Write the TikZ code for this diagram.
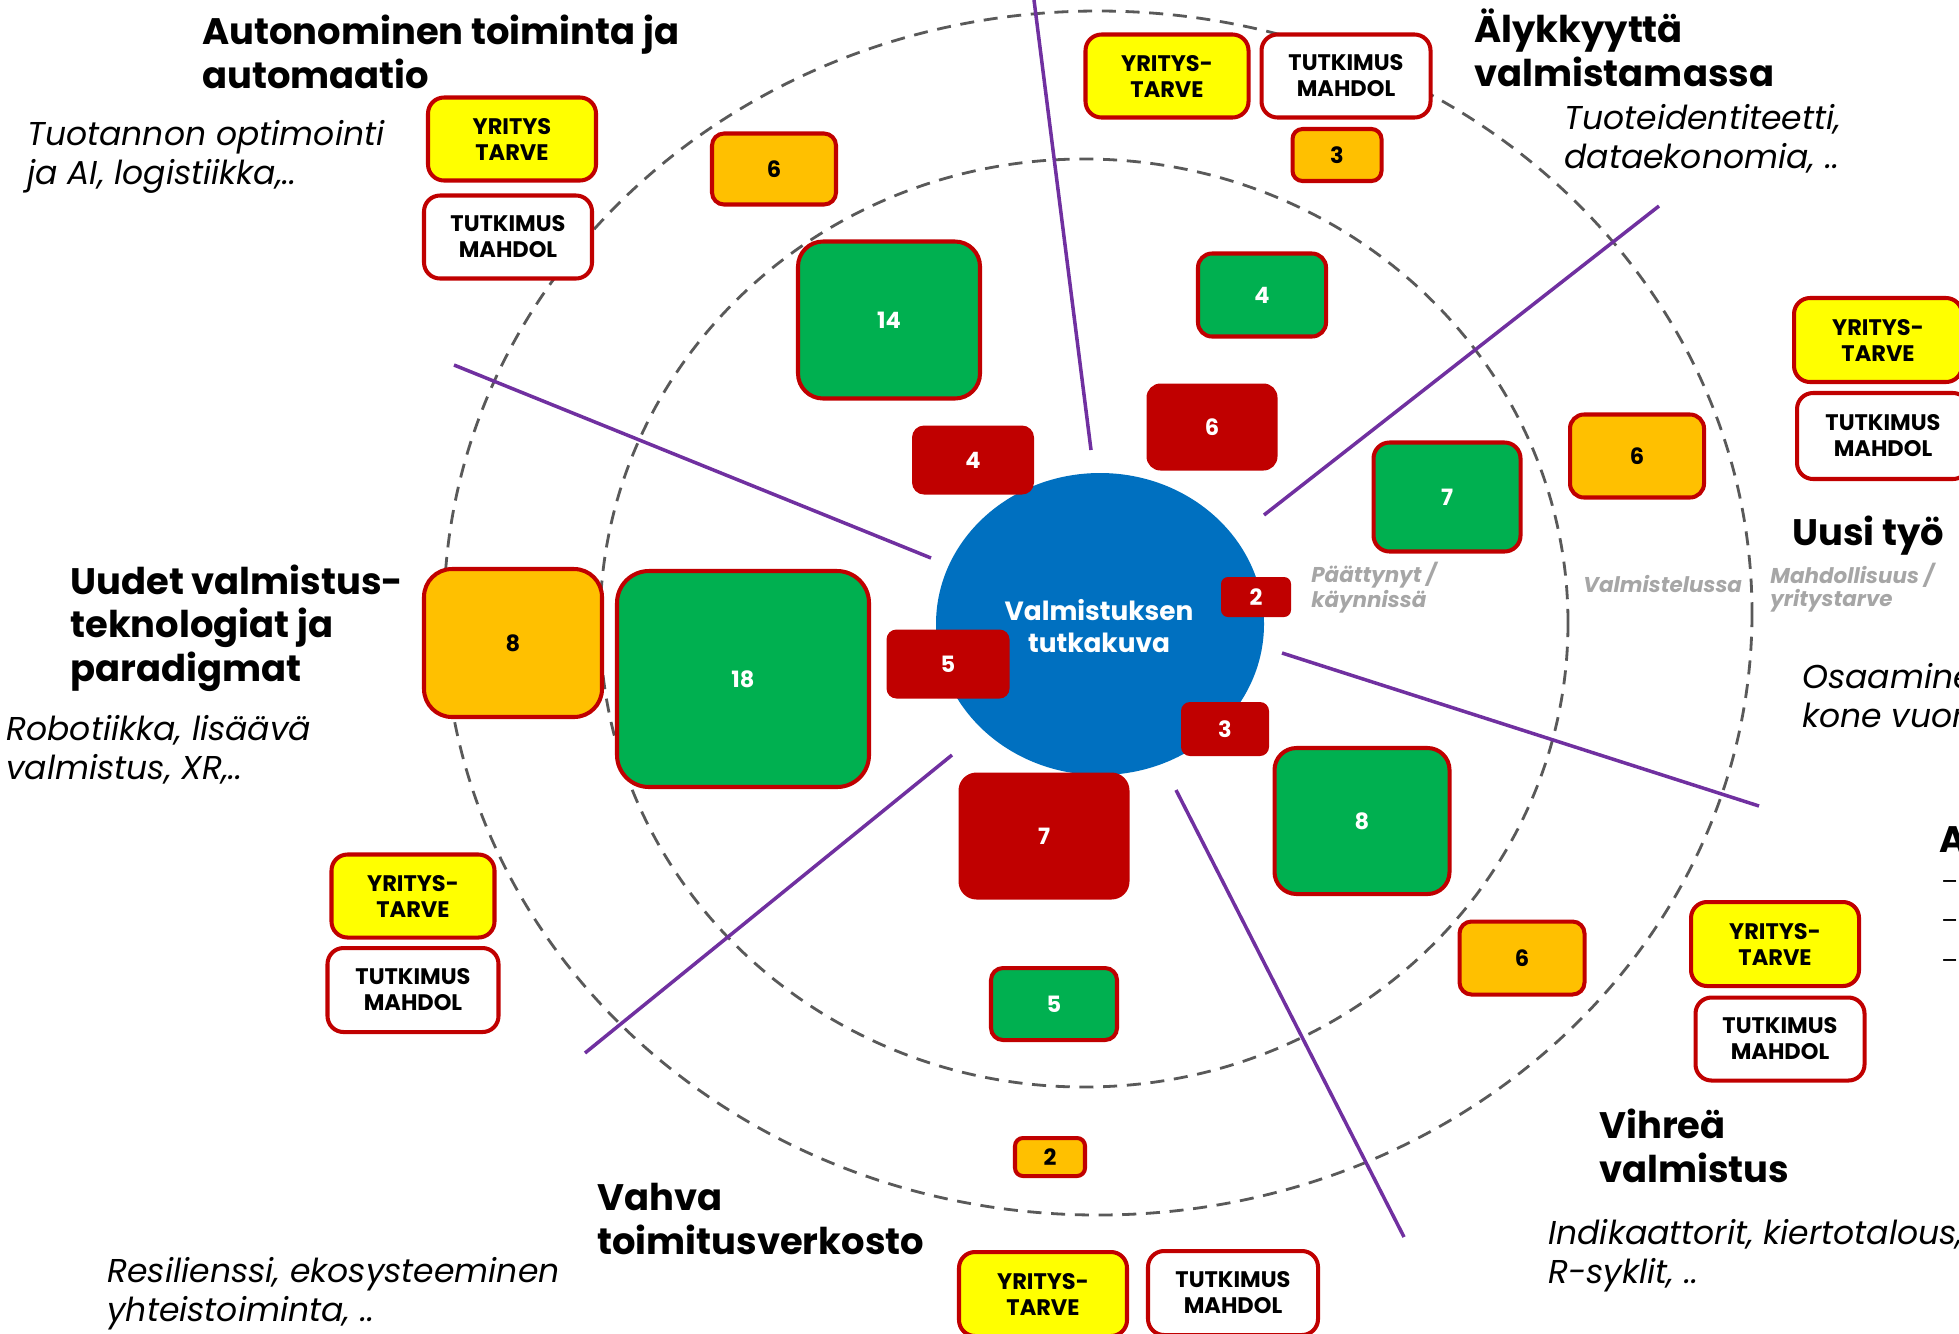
\documentclass[tikz,border=0pt]{standalone}
\usepackage{fontspec}
\usetikzlibrary{shapes.geometric}
\setmainfont{Poppins}
\definecolor{dred}{HTML}{C00000}
\definecolor{bgreen}{HTML}{00B050}
\definecolor{borange}{HTML}{FFC000}
\definecolor{byellow}{HTML}{FFFF00}
\definecolor{bblue}{HTML}{0070C0}
\definecolor{bpurple}{HTML}{7030A0}
\definecolor{dgrey}{HTML}{595959}
\definecolor{lgrey}{HTML}{A6A6A6}
\newcommand\ttlfont{\fontsize{21}{24.5}\selectfont\bfseries}
\newcommand\itxfont{\fontsize{18.8}{22}\selectfont\itshape}
\newcommand\gtxfont{\fontsize{12.2}{12.8}\selectfont\bfseries\itshape}
\newcommand\bxfont{\fontsize{12.8}{14.8}\selectfont\bfseries}
\newcommand\ctrfont{\fontsize{15}{18}\selectfont\bfseries}
\tikzset{
  bx/.style n args={3}{shape=rectangle, minimum width=#1*0.02cm, minimum height=#2*0.02cm,
     rounded corners=#3*0.02cm, inner sep=0pt, align=center, font=\bxfont},
  gbox/.style={fill=bgreen, draw=dred, line width=2.3pt, text=white},
  obox/.style={fill=borange, draw=dred, line width=2.3pt, text=black},
  rbox/.style={fill=dred, draw=none, text=white},
  ybox/.style={fill=byellow, draw=dred, line width=2.3pt, text=black},
  wbox/.style={fill=white, draw=dred, line width=2.3pt, text=black},
  ring/.style={draw=dgrey, line width=1.6pt, dash pattern=on 8pt off 5.5pt},
  sep/.style={draw=bpurple, line width=2pt},
  ttl/.style={anchor=base west, align=left, inner sep=0pt, font=\ttlfont},
  itx/.style={anchor=base west, align=left, inner sep=0pt, font=\itxfont},
  gtx/.style={anchor=base west, align=left, inner sep=0pt, font=\gtxfont, text=lgrey},
}
\begin{document}
\begin{tikzpicture}[x=0.02cm, y=-0.02cm]
\useasboundingbox (0,0) rectangle (1959,1333);
\clip (0,0) rectangle (1959,1333);
% rings
\draw[ring] (1098,613) ellipse [x radius=654, y radius=602];
\draw[ring] (1084,623) ellipse [x radius=484, y radius=464];
% separators
\coordinate (s1a) at (1034,0);   \coordinate (s1b) at (1091,450);
\coordinate (s2a) at (1264,515); \coordinate (s2b) at (1659,206);
\coordinate (s3a) at (1282,653); \coordinate (s3b) at (1759,806);
\coordinate (s4a) at (1176,790); \coordinate (s4b) at (1404,1237);
\coordinate (s5a) at (952,755);  \coordinate (s5b) at (585,1053);
\coordinate (s6a) at (454,365);  \coordinate (s6b) at (931,558);
\draw[sep] (s1a) -- (s1b);
\draw[sep] (s2a) -- (s2b);
\draw[sep] (s3a) -- (s3b);
\draw[sep] (s4a) -- (s4b);
\draw[sep] (s5a) -- (s5b);
\draw[sep] (s6a) -- (s6b);
% centre
\node[ellipse, fill=bblue, minimum width=328*0.02cm, minimum height=302*0.02cm, inner sep=0pt] (core) at (1100,624) {};
\node[align=center, text=white, font=\ctrfont] (coretext) at (1099,626) {Valmistuksen\\tutkakuva};
% inner boxes
\node[bx={182}{157}{25}, gbox] (g14) at (889,320) {14};
\node[bx={128}{83}{14}, gbox] (g4) at (1262,295) {4};
\node[rbox, bx={131}{87}{14}] (r6) at (1212,427) {6};
\node[rbox, bx={122}{69}{12}] (r4) at (973,460) {4};
\node[bx={147}{109}{16}, gbox] (g7) at (1447,497) {7};
\node[bx={134}{83}{14}, obox] (o6r) at (1637,456) {6};
\node[bx={178}{148}{28}, obox] (o8) at (513,643) {8};
\node[bx={252}{216}{32}, gbox] (g18) at (743,679) {18};
\node[rbox, bx={123}{69}{10}] (r5) at (948,664) {5};
\node[rbox, bx={70}{40}{7}] (r2) at (1256,597) {2};
\node[rbox, bx={88}{54}{9}] (r3) at (1225,729) {3};
\node[rbox, bx={171}{127}{18}] (r7) at (1044,836) {7};
\node[bx={175}{146}{22}, gbox] (g8) at (1362,821) {8};
\node[bx={126}{72}{12}, gbox] (g5) at (1054,1004) {5};
\node[bx={125}{73}{12}, obox] (o6b) at (1522,958) {6};
\node[bx={70}{38}{8}, obox] (o2) at (1050,1157) {2};
\node[bx={89}{52}{10}, obox] (o3) at (1337,155) {3};
\node[bx={124}{71}{12}, obox] (o6t) at (774,169) {6};
% need / opportunity boxes
\node[bx={168}{83}{16}, ybox] (y1) at (512,139) {YRITYS\\TARVE};
\node[bx={168}{83}{16}, wbox] (w1) at (508,237) {TUTKIMUS\\MAHDOL};
\node[bx={163}{83}{16}, ybox] (y2) at (1167,76) {YRITYS-\\TARVE};
\node[bx={169}{83}{16}, wbox] (w2) at (1346,76) {TUTKIMUS\\MAHDOL};
\node[bx={168}{84}{16}, ybox] (y3) at (1878,340) {YRITYS-\\TARVE};
\node[bx={172}{86}{16}, wbox] (w3) at (1883,436) {TUTKIMUS\\MAHDOL};
\node[bx={163}{83}{16}, ybox] (y4) at (413,896) {YRITYS-\\TARVE};
\node[bx={171}{84}{16}, wbox] (w4) at (413,990) {TUTKIMUS\\MAHDOL};
\node[bx={168}{84}{16}, ybox] (y5) at (1775,944) {YRITYS-\\TARVE};
\node[bx={169}{83}{16}, wbox] (w5) at (1780,1039) {TUTKIMUS\\MAHDOL};
\node[bx={168}{84}{16}, ybox] (y6) at (1043,1294) {YRITYS-\\TARVE};
\node[bx={170}{84}{16}, wbox] (w6) at (1233,1293) {TUTKIMUS\\MAHDOL};
% titles (anchor = baseline of last line)
\node[ttl] (t1) at (202,88) {Autonominen toiminta ja\\automaatio};
\node[ttl] (t2) at (1474,86) {Älykkyyttä\\valmistamassa};
\node[ttl] (t3) at (1792,545) {Uusi työ};
\node[ttl] (t4) at (70,681) {Uudet valmistus-\\teknologiat ja\\paradigmat};
\node[ttl] (t5) at (597,1254) {Vahva\\toimitusverkosto};
\node[ttl] (t6) at (1599,1182) {Vihreä\\valmistus};
\node[ttl] (t7) at (1939,852) {A};
\node[anchor=base west, align=left, inner sep=0pt, font=\fontsize{14}{22.4}\selectfont] (t7d) at (1941,969) {–\\–\\–};
% descriptions
\node[itx] (d1) at (27,184) {Tuotannon optimointi\\ja AI, logistiikka,..};
\node[itx] (d2) at (1564,168) {Tuoteidentiteetti,\\dataekonomia, ..};
\node[itx] (d3) at (1802,727) {Osaaminen,\\kone vuorovaikutus};
\node[itx] (d4) at (6,779) {Robotiikka, lisäävä\\valmistus, XR,..};
\node[itx] (d5) at (1548,1283) {Indikaattorit, kiertotalous,\\R-syklit, ..};
\node[itx] (d6) at (107,1321) {Resilienssi, ekosysteeminen\\yhteistoiminta, ..};
% legend labels
\node[gtx] (l1) at (1311,607) {Päättynyt /\\käynnissä};
\node[gtx] (l2) at (1583,592) {Valmistelussa};
\node[gtx] (l3) at (1770,606) {Mahdollisuus /\\yritystarve};
\end{tikzpicture}
\end{document}
